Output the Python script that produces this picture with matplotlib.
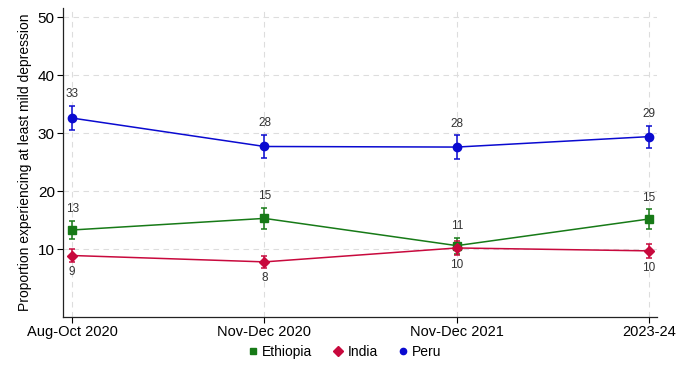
import matplotlib
matplotlib.use("Agg")
import matplotlib.pyplot as plt
from matplotlib.lines import Line2D

periods = ["Aug-Oct 2020", "Nov-Dec 2020", "Nov-Dec 2021", "2023-24"]

ethiopia = [13.3, 15.3, 10.6, 15.2]
ethiopia_err = [1.6, 1.8, 1.4, 1.7]
india = [8.9, 7.8, 10.2, 9.7]
india_err = [1.1, 1.1, 1.2, 1.2]
peru = [32.6, 27.7, 27.6, 29.4]
peru_err = [2.1, 2.0, 2.0, 1.9]

series = [
    ("Ethiopia", ethiopia, ethiopia_err, "#177a17", "s", "above"),
    ("India", india, india_err, "#c8093d", "D", "below"),
    ("Peru", peru, peru_err, "#0a0ad0", "o", "above"),
]

plt.rcParams["font.family"] = ["Liberation Sans", "DejaVu Sans"]

fig = plt.figure(figsize=(6.86, 3.76), dpi=100)
ax = fig.add_axes([0.092, 0.157, 0.866, 0.822])

x = list(range(len(periods)))
for name, vals, errs, color, marker, pos in series:
    ms = 5.5 if marker == "D" else 6
    ax.errorbar(x, vals, yerr=errs, color=color, marker=marker, ms=ms,
                lw=1.1, elinewidth=1.1, capsize=2.5, capthick=1.1, zorder=3)
    for xi, v, e in zip(x, vals, errs):
        if pos == "above":
            ax.annotate(f"{round(v):d}", (xi, v + e), xytext=(0, 4),
                        textcoords="offset points", ha="center", va="bottom",
                        fontsize=8.5, color="#333333")
        else:
            ax.annotate(f"{round(v):d}", (xi, v - e), xytext=(0, -3),
                        textcoords="offset points", ha="center", va="top",
                        fontsize=8.5, color="#333333")

ax.set_xlim(-0.047, 3.042)
ax.set_ylim(-1.7, 51.6)
ax.set_xticks(x)
ax.set_xticklabels(periods, fontsize=10.5)
ax.set_yticks([10, 20, 30, 40, 50])
ax.tick_params(axis="y", labelsize=11, length=4, width=0.8, pad=2)
ax.tick_params(axis="x", length=4, width=0.8, pad=2)
ax.grid(True, color="#dddddd", linestyle=(0, (5, 4)), linewidth=0.8)
ax.set_axisbelow(True)
for s in ["top", "right"]:
    ax.spines[s].set_visible(False)
for s in ["left", "bottom"]:
    ax.spines[s].set_linewidth(0.9)
    ax.spines[s].set_color("#222222")
ax.set_ylabel("Proportion experiencing at least mild depression", fontsize=10, labelpad=4)

handles = [Line2D([], [], color=c, marker=m, linestyle="none", ms=5 if m != "o" else 4.5)
           for _, _, _, c, m, _ in series]
fig.legend(handles, [s[0] for s in series], loc="center", bbox_to_anchor=(0.5, 0.064),
           ncol=3, frameon=False, fontsize=10, handletextpad=0.1, columnspacing=1.2,
           handlelength=1.2)

fig.savefig("out.png", dpi=100, facecolor="white")
